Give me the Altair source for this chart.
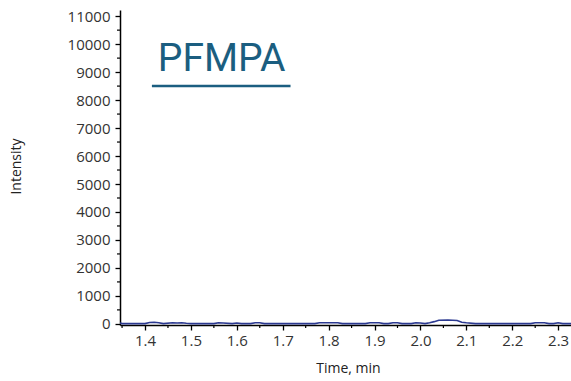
import altair as alt
import pandas as pd

times = [1.3455, 1.35, 1.40, 1.41, 1.42, 1.43, 1.44, 1.46, 1.47, 1.48, 1.49, 1.50,
         1.55, 1.56, 1.57, 1.59, 1.60, 1.61, 1.63, 1.64, 1.65, 1.66, 1.77, 1.78,
         1.80, 1.82, 1.83, 1.88, 1.89, 1.91, 1.92, 1.93, 1.94, 1.95, 1.96, 1.98,
         1.99, 2.00, 2.01, 2.02, 2.03, 2.04, 2.06, 2.08, 2.09, 2.10, 2.12, 2.24,
         2.25, 2.27, 2.28, 2.29, 2.30, 2.31, 2.328]
intensity = [30, 10, 10, 50, 60, 40, 10, 40, 30, 40, 20, 10,
             10, 40, 30, 10, 30, 10, 10, 40, 40, 10, 10, 40,
             40, 40, 10, 10, 40, 40, 10, 10, 40, 40, 10, 10,
             40, 30, 10, 40, 80, 130, 140, 120, 60, 40, 10, 10,
             40, 40, 10, 10, 40, 10, 10]

x_ticks = [1.4, 1.5, 1.6, 1.7, 1.8, 1.9, 2.0, 2.1, 2.2, 2.3]
x_minor = [1.35, 1.45, 1.55, 1.65, 1.75, 1.85, 1.95, 2.05, 2.15, 2.25]
y_ticks = [0, 1000, 2000, 3000, 4000, 5000, 6000, 7000, 8000, 9000, 10000, 11000]
y_minor = [500, 1500, 2500, 3500, 4500, 5500, 6500, 7500, 8500, 9500, 10500]

label_text = ["PFMPA"]
label_x = [1.567]
label_y = [9050]
underline_x = [1.415]
underline_x2 = [1.717]
underline_y = [8500]

W, H = 451, 315
df = pd.DataFrame({"t": times, "i": intensity})

xdom = [1.3455, 2.328]
ydom = [-40, 11220]
FONT = "Open Sans"

xs = alt.Scale(domain=xdom, nice=False, zero=False)
ys = alt.Scale(domain=ydom, nice=False, zero=False)

xa = alt.Axis(
    values=x_ticks, format=".1f", title="Time, min", grid=False,
    domainColor="#000", domainWidth=1.5, tickColor="#000", tickSize=5, tickWidth=1.3,
    labelFont=FONT, labelFontSize=15, labelColor="#333", labelPadding=3,
    labelOverlap=False, labelFlush=False,
    titleFont=FONT, titleFontSize=14, titleFontWeight="normal", titleColor="#222",
    titleX=228, titleY=43, titleAnchor="middle", titleAlign="center", titleBaseline="middle")
ya = alt.Axis(
    values=y_ticks, format="d", title="Intensity", grid=False,
    domainColor="#000", domainWidth=1.5, tickColor="#000", tickSize=5, tickWidth=1.3,
    labelFont=FONT, labelFontSize=15, labelColor="#333", labelPadding=5,
    labelOverlap=False, labelFlush=False,
    titleFont=FONT, titleFontSize=14, titleFontWeight="normal", titleColor="#222",
    titleX=-104, titleY=156, titleAngle=-90, titleAlign="center", titleBaseline="middle")

line = alt.Chart(df).mark_line(color="#2b3990", strokeWidth=1.6, clip=True).encode(
    x=alt.X("t:Q", scale=xs, axis=xa, title="Time, min"),
    y=alt.Y("i:Q", scale=ys, axis=ya, title="Intensity"),
)

ymin_df = pd.DataFrame({"i": y_minor})
ymin = alt.Chart(ymin_df).mark_rule(color="#000", strokeWidth=1.2, clip=False).encode(
    y=alt.Y("i:Q", scale=ys, axis=ya, title="Intensity"), x=alt.value(-3), x2=alt.value(0))

xmin_df = pd.DataFrame({"t": x_minor})
xmin = alt.Chart(xmin_df).mark_rule(color="#000", strokeWidth=1.2, clip=False).encode(
    x=alt.X("t:Q", scale=xs, axis=xa, title="Time, min"), y=alt.value(H), y2=alt.value(H + 3))

title_df = pd.DataFrame({"txt": label_text, "t": label_x, "i": label_y})
title = alt.Chart(title_df).mark_text(font="Roboto", fontSize=39, color="#1b5e80",
                                      align="center", baseline="alphabetic").encode(
    x=alt.X("t:Q", scale=xs, axis=xa, title="Time, min"),
    y=alt.Y("i:Q", scale=ys, axis=ya, title="Intensity"), text="txt:N")

ul_df = pd.DataFrame({"t": underline_x, "t2": underline_x2, "i": underline_y})
ul = alt.Chart(ul_df).mark_rule(color="#1b5e80", strokeWidth=2.5).encode(
    x=alt.X("t:Q", scale=xs, axis=xa, title="Time, min"), x2="t2:Q",
    y=alt.Y("i:Q", scale=ys, axis=ya, title="Intensity"))

chart = alt.layer(line, ymin, xmin, title, ul).properties(
    width=W, height=H,
    autosize=alt.AutoSizeParams(type="none"),
    padding={"left": 120, "top": 10, "right": 0, "bottom": 56},
    background="white",
).configure_view(stroke=None)

chart.save("out.html", embed_options={"renderer": "svg", "actions": False})
